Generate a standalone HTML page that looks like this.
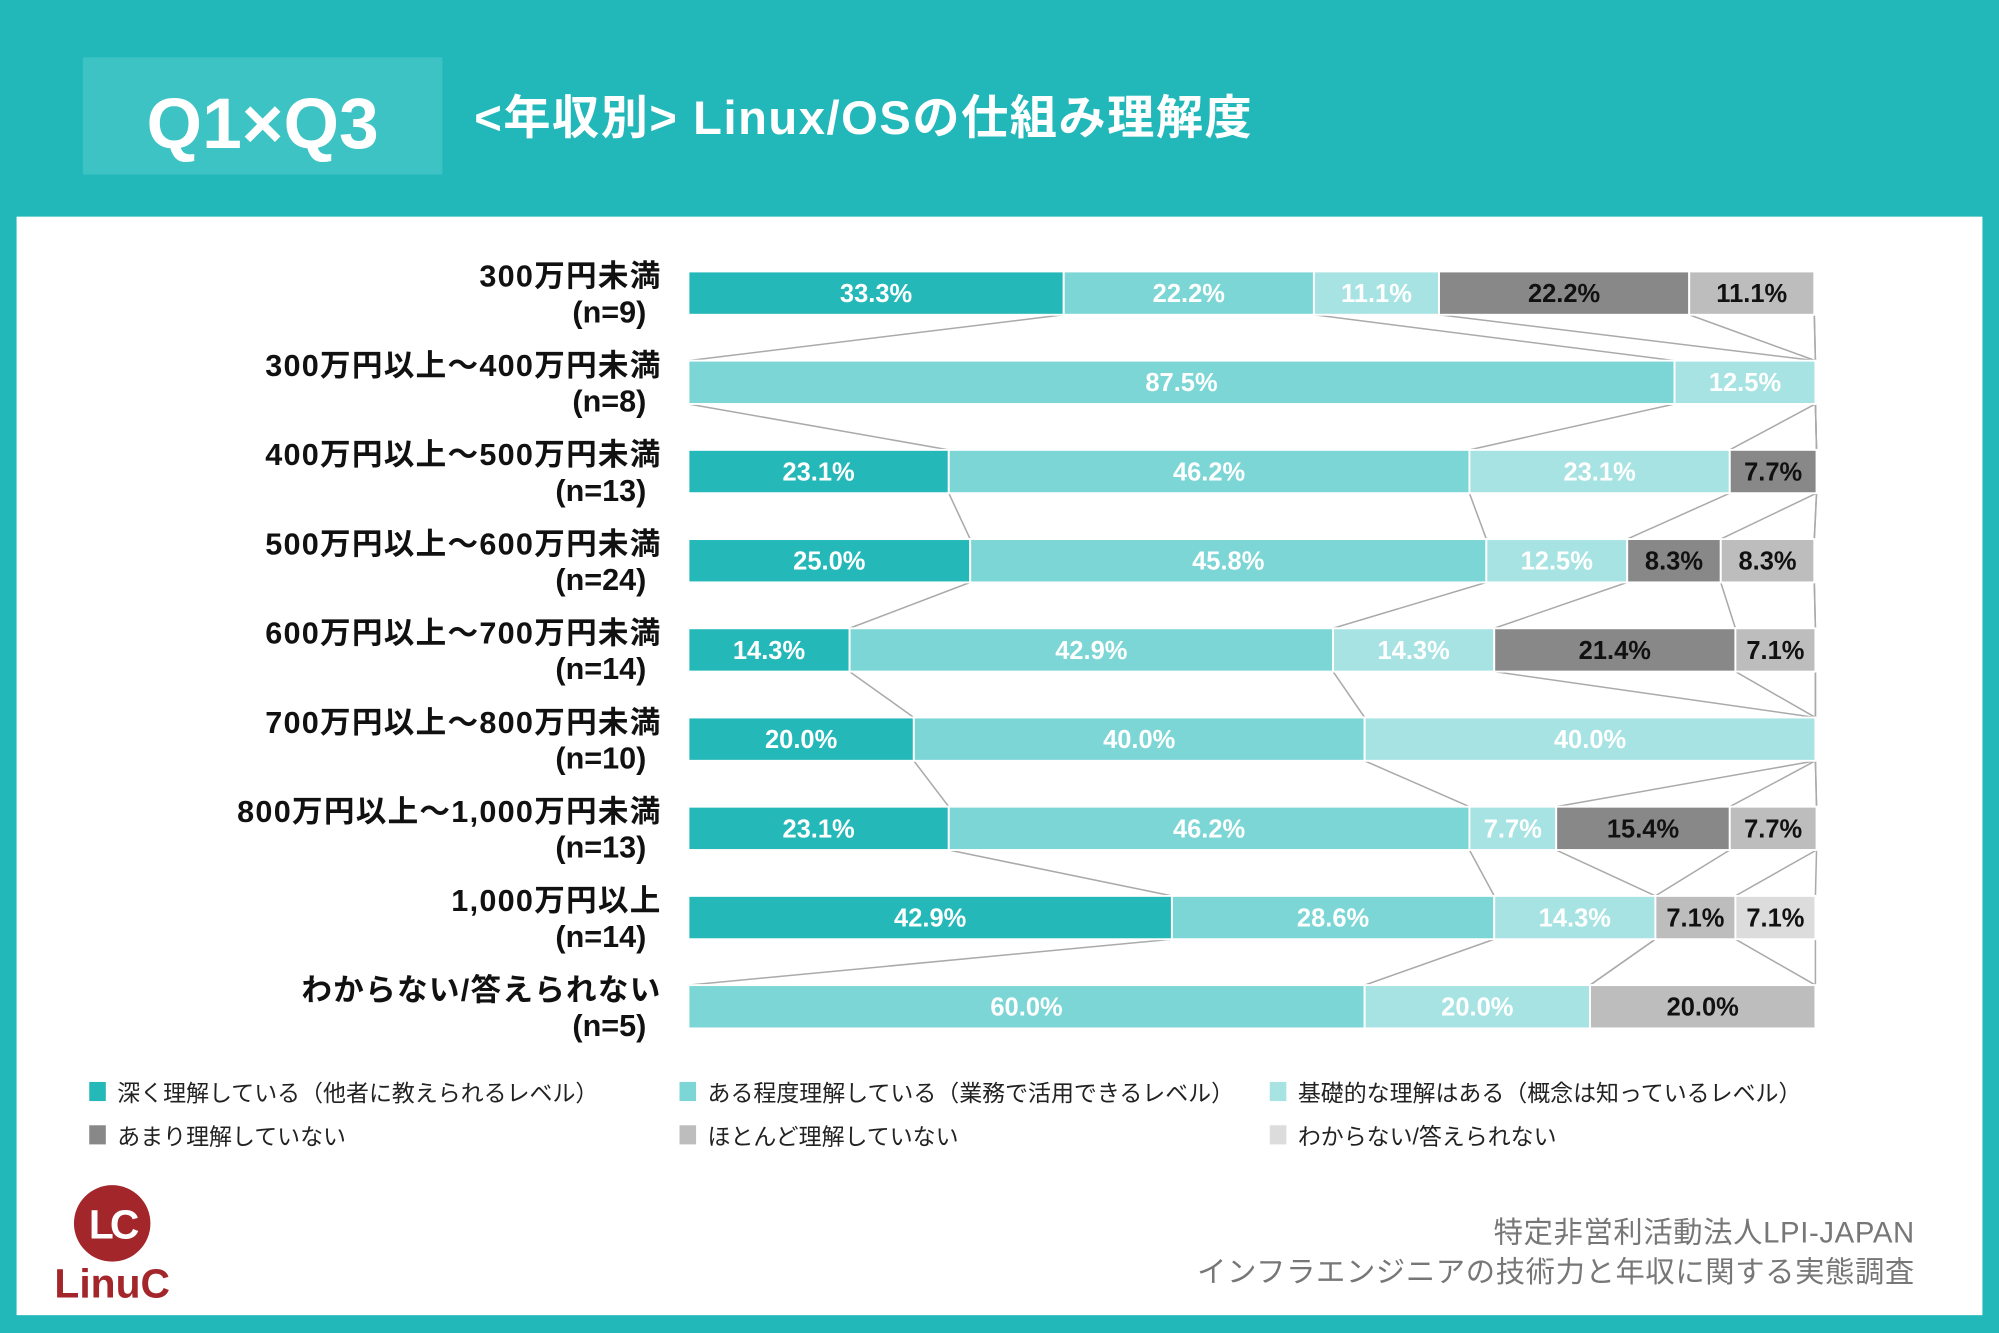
<!DOCTYPE html>
<html><head><meta charset="utf-8"><style>
html,body{margin:0;padding:0;background:#22B8BA;}
svg{display:block;font-family:"Liberation Sans","Noto Sans CJK JP",sans-serif;}
</style></head><body>
<svg id="chart" width="1999" height="1333" viewBox="0 0 1568 1046" preserveAspectRatio="none" xmlns="http://www.w3.org/2000/svg">
<rect x="0" y="0" width="1568" height="1046" fill="#22B8BA"/>
<rect x="65" y="45" width="282" height="92" fill="#3DC3C4"/>
<text x="206" y="116" text-anchor="middle" font-size="56" font-weight="bold" fill="#fff">Q1×Q3</text>
<text x="372" y="105" font-size="37" font-weight="bold" fill="#fff" letter-spacing="1.2">&lt;年収別&gt; Linux/OSの仕組み理解度</text>
<rect x="13" y="170" width="1542" height="862" fill="#fff"/>
<g id="links"></g>
<g id="bars"></g>
<g id="labels"></g>
<g id="legend"></g>
<g>
<circle cx="88" cy="960" r="30" fill="#A3262B"/>
<text x="88" y="972" text-anchor="middle" font-size="32" font-weight="bold" fill="#fff" letter-spacing="-3">LC</text>
<text x="88" y="1018" text-anchor="middle" font-size="32" font-weight="bold" fill="#A3262B">LinuC</text>
</g>
<text x="1502" y="975" text-anchor="end" font-size="23" fill="#777" letter-spacing="0.5">特定非営利活動法人LPI-JAPAN</text>
<text x="1502" y="1006" text-anchor="end" font-size="23" fill="#777" letter-spacing="0.5">インフラエンジニアの技術力と年収に関する実態調査</text>
</svg>
<script>
const categories = ["300万円未満","300万円以上～400万円未満","400万円以上～500万円未満","500万円以上～600万円未満","600万円以上～700万円未満","700万円以上～800万円未満","800万円以上～1,000万円未満","1,000万円以上","わからない/答えられない"];
const counts = [9,8,13,24,14,10,13,14,5];
const seriesNames = ["深く理解している（他者に教えられるレベル）","ある程度理解している（業務で活用できるレベル）","基礎的な理解はある（概念は知っているレベル）","あまり理解していない","ほとんど理解していない","わからない/答えられない"];
const deep = [33.3,0,23.1,25.0,14.3,20.0,23.1,42.9,0];
const some = [22.2,87.5,46.2,45.8,42.9,40.0,46.2,28.6,60.0];
const basic = [11.1,12.5,23.1,12.5,14.3,40.0,7.7,14.3,20.0];
const little = [22.2,0,7.7,8.3,21.4,0,15.4,0,0];
const hardly = [11.1,0,0,8.3,7.1,0,7.7,7.1,20.0];
const unknown = [0,0,0,0,0,0,0,7.1,0];

const series = [deep,some,basic,little,hardly,unknown];
const colors = ["#25B8B8","#7DD6D6","#A8E3E3","#888888","#BDBDBD","#DCDCDC"];
const textColors = ["#fff","#fff","#fff","#111","#111","#111"];
const NS = "http://www.w3.org/2000/svg";
const X0 = 540, XW = 884, Y0 = 213, ROW = 70, BH = 34;
const xs = v => X0 + v / 100 * XW;
const ys = i => Y0 + i * ROW;
function mk(tag, attrs){const e=document.createElementNS(NS,tag);for(const k in attrs)e.setAttribute(k,attrs[k]);return e;}
const barsG=document.getElementById('bars'), linksG=document.getElementById('links'), labG=document.getElementById('labels'), legG=document.getElementById('legend');
const cum = categories.map((c,i)=>{let s=0;const a=[0];series.forEach(sr=>{s+=sr[i];a.push(s);});return a;});
categories.forEach((c,i)=>{
  series.forEach((sr,k)=>{
    const v=sr[i]; if(!v) return;
    const r=mk('rect',{x:xs(cum[i][k]),y:ys(i),width:xs(cum[i][k+1])-xs(cum[i][k]),height:BH,fill:colors[k],stroke:'#fff','stroke-width':1.5});
    
    
    barsG.appendChild(r);
    const t=mk('text',{x:(xs(cum[i][k])+xs(cum[i][k+1]))/2,y:ys(i)+BH/2+7,'text-anchor':'middle','font-size':20,'font-weight':'bold',fill:textColors[k]});
    t.textContent=v.toFixed(1)+'%';
    
    
    barsG.appendChild(t);
  });
  const l1=mk('text',{x:519,y:ys(i)+12,'text-anchor':'end','font-size':24,'font-weight':'bold',fill:'#111','letter-spacing':1});
  l1.textContent=c;
  
  
  labG.appendChild(l1);
  const l2=mk('text',{x:507,y:ys(i)+40,'text-anchor':'end','font-size':24,'font-weight':'bold',fill:'#111'});
  l2.textContent='(n='+counts[i]+')';
  
  
  labG.appendChild(l2);
  if(i<categories.length-1){
    for(let k=1;k<=6;k++){
      const ln=mk('line',{x1:xs(cum[i][k]),y1:ys(i)+BH,x2:xs(cum[i+1][k]),y2:ys(i+1),stroke:'#aaa','stroke-width':1.2});
      
      
      linksG.appendChild(ln);
    }
  }
});
const legX=[70,533,996], legY=[857,891];
seriesNames.forEach((n,k)=>{
  const x=legX[k%3], y=legY[Math.floor(k/3)];
  const r=mk('rect',{x:x,y:y-8,width:13,height:15,fill:colors[k]});
  
  
  legG.appendChild(r);
  const t=mk('text',{x:x+22,y:y+7,'font-size':18,fill:'#222'});
  t.textContent=n;
  
  
  legG.appendChild(t);
});
</script>
</body></html>
